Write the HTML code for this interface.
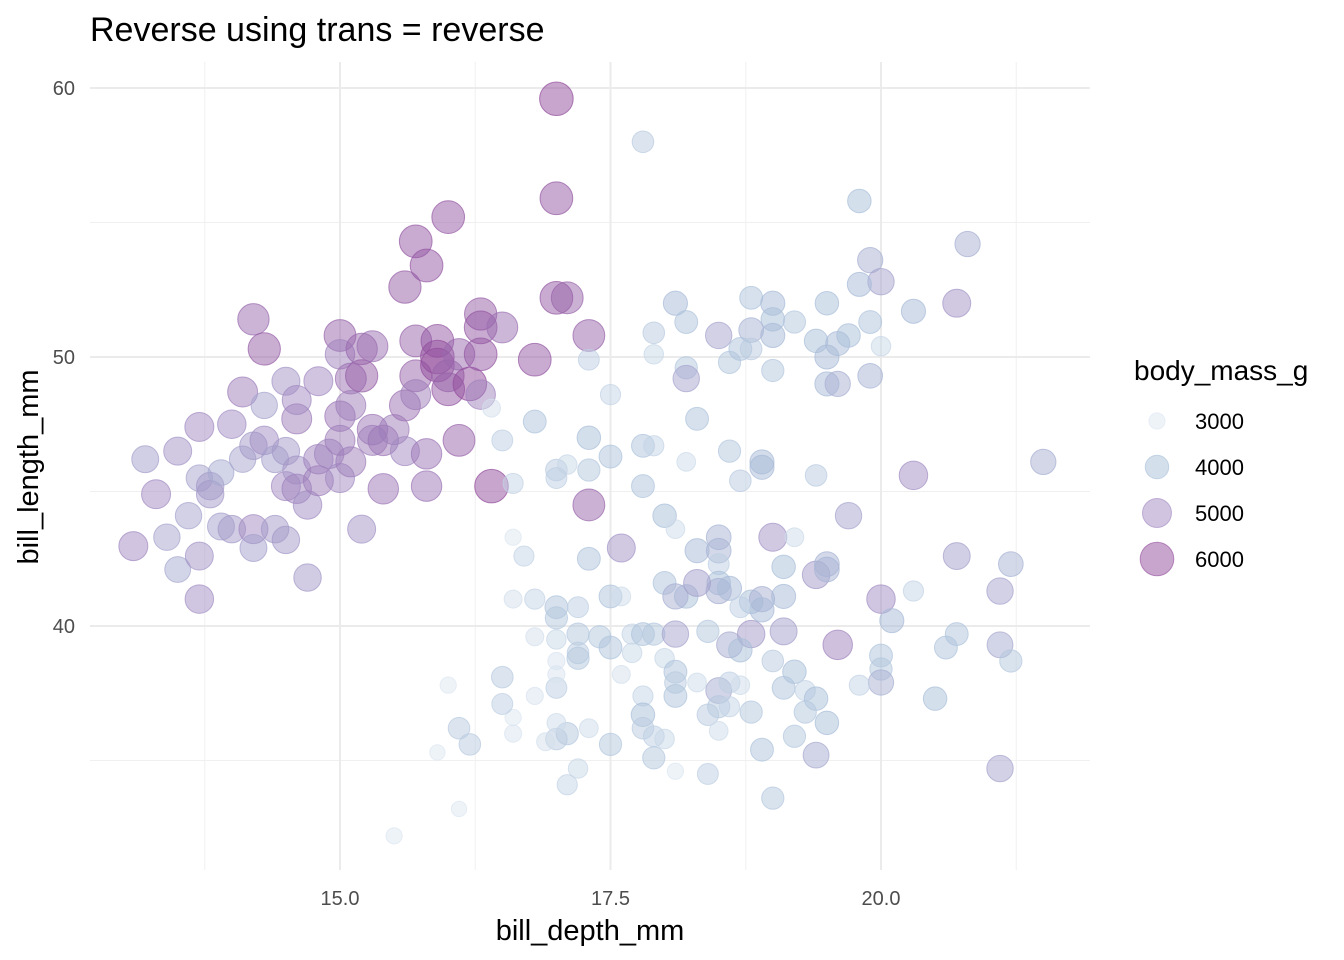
<!DOCTYPE html>
<html><head><meta charset="utf-8">
<style>
body{margin:0;background:#fff;}
svg{display:block;font-family:"Liberation Sans",Arial,sans-serif;}
</style></head>
<body>
<svg id="chart" width="1344" height="960">
<text x="90" y="41" font-size="34" fill="#000">Reverse using trans = reverse</text>
<g id="grid"></g>
<g id="pts"></g>
<g id="ticks"></g>
<text x="590" y="940" font-size="29" text-anchor="middle" fill="#000">bill_depth_mm</text>
<text transform="translate(38,467) rotate(-90)" font-size="29" text-anchor="middle" fill="#000">bill_length_mm</text>
<g id="legend">
<text x="1134" y="380" font-size="28" fill="#000">body_mass_g</text>
</g>
</svg>
<script>
const xTicks=[15.0,17.5,20.0];
const xTickLabels=["15.0","17.5","20.0"];
const xMinor=[13.75,16.25,18.75,21.25];
const yTicks=[40,50,60];
const yTickLabels=["40","50","60"];
const yMinor=[35,45,55];
const legendValues=[3000,4000,5000,6000];
const depth=[13.09,13.2,13.3,13.4,13.5,13.5,13.6,13.7,13.7,13.7,13.7,13.8,13.8,13.9,13.9,14.0,14.0,14.1,14.1,14.2,14.2,14.2,14.2,14.3,14.3,14.3,14.4,14.4,14.5,14.5,14.5,14.5,14.6,14.6,14.6,14.6,14.7,14.7,14.8,14.8,14.8,14.9,15.0,15.0,15.0,15.0,15.0,15.1,15.1,15.1,15.2,15.2,15.2,15.3,15.3,15.3,15.4,15.4,15.5,15.6,15.6,15.6,15.7,15.7,15.7,15.7,15.8,15.8,15.8,15.9,15.9,15.9,16.0,16.0,16.0,16.1,16.1,16.2,16.3,16.3,16.3,16.3,16.4,16.5,16.8,17.0,17.0,17.0,17.1,17.3,17.3,
17.8,19.8,19.9,20.0,19.8,20.8,20.7,20.3,18.1,18.2,17.9,18.8,19.0,19.0,19.0,19.2,18.8,18.5,18.6,18.7,18.8,19.0,19.5,19.4,19.5,19.6,19.7,19.9,20.0,19.9,19.5,19.6,17.9,18.2,18.2,17.3,17.5,18.3,16.4,16.5,16.6,16.8,17.3,17.0,17.1,17.0,17.3,17.5,17.8,17.9,17.8,18.2,18.6,18.9,18.9,18.7,19.4,19.7,20.3,21.5,18.0,18.1,18.3,18.5,18.5,18.5,18.5,18.5,19.0,19.2,19.1,19.4,19.5,19.5,20.3,20.7,21.2,21.1,20.0,20.1,17.6,17.3,18.0,18.2,18.1,18.3,18.6,18.8,18.9,18.9,19.1,18.7,17.5,17.6,16.8,16.6,16.7,16.6,17.0,17.0,17.2,17.2,17.4,17.7,17.8,17.9,18.1,18.4,18.8,19.1,18.6,18.7,19.0,19.2,19.6,20.0,20.0,20.0,19.8,20.6,20.7,21.1,21.2,20.5,21.1,17.0,16.8,17.0,17.2,17.5,17.7,18.0,17.2,16.5,16.0,16.8,17.0,17.0,17.6,17.8,18.1,18.1,18.1,18.3,18.5,18.6,18.7,18.8,19.1,19.3,19.4,19.3,19.5,19.2,19.4,18.9,19.0,18.4,18.5,18.6,18.4,17.8,17.8,17.9,18.0,17.9,18.1,18.5,17.5,17.3,17.1,17.0,16.9,17.0,17.2,17.1,16.6,16.6,16.5,16.2,16.1,15.9,16.1,15.5];
const length=[42.97,46.2,44.9,43.3,46.5,42.1,44.1,47.4,42.6,41.0,45.5,45.2,44.9,45.7,43.7,43.6,47.5,48.7,46.2,51.4,46.7,43.6,42.9,50.3,48.2,46.9,46.2,43.6,49.1,46.5,45.2,43.2,47.7,48.4,45.8,45.1,44.5,41.8,49.1,46.2,45.4,46.4,50.8,50.1,47.8,46.9,45.5,49.2,48.2,46.1,50.3,49.3,43.6,50.4,47.3,46.9,45.1,46.9,47.3,52.6,48.2,46.5,54.3,50.6,49.3,48.6,53.4,46.4,45.2,50.6,50.0,49.7,55.2,48.8,49.3,50.1,46.9,49.0,51.6,51.1,50.1,48.6,45.2,51.1,49.9,59.6,55.9,52.2,52.2,50.8,44.5,
58.0,55.8,53.6,52.8,52.7,54.2,52.0,51.7,52.0,51.3,50.9,52.2,52.0,51.4,50.8,51.3,51.0,50.8,49.8,50.3,50.3,49.5,52.0,50.6,50.0,50.5,50.8,51.3,50.4,49.3,49.0,49.0,50.1,49.6,49.2,49.9,48.6,47.7,48.1,46.9,45.3,47.6,47.0,45.8,46.0,45.5,45.8,46.3,46.7,46.7,45.2,46.1,46.5,46.1,45.9,45.4,45.6,44.1,45.6,46.1,44.1,43.6,42.8,43.3,42.8,42.3,41.6,41.3,43.3,43.3,42.2,41.9,42.3,42.1,41.3,42.6,42.3,41.3,41.0,40.2,42.9,42.5,41.6,41.1,41.1,41.6,41.4,40.9,41.0,40.6,41.1,40.7,41.1,41.1,41.0,41.0,42.6,43.3,40.7,40.3,40.7,39.7,39.6,39.7,39.7,39.7,39.7,39.8,39.7,39.8,39.3,39.1,38.7,38.3,39.3,38.9,38.4,37.9,37.8,39.2,39.7,39.3,38.7,37.3,34.7,39.5,39.6,38.7,39.0,39.2,39.0,38.8,38.8,38.1,37.8,37.4,37.7,38.2,38.2,37.4,38.3,37.9,37.4,37.9,37.6,37.9,37.8,36.8,37.7,37.6,37.3,36.8,36.4,35.9,35.2,35.4,33.6,34.5,37.0,37.0,36.7,36.7,36.2,35.9,35.8,35.1,34.6,36.1,35.6,36.2,36.0,35.8,35.7,36.4,34.7,34.1,36.6,36.0,37.1,35.6,36.2,35.3,33.2,32.2];
const mass=[5000,4600,5000,4500,4800,4400,4500,5000,4800,4900,4500,4700,4700,4400,4600,4700,4900,5200,4500,5500,4700,5000,4600,5700,4500,4900,4600,4700,4800,4700,5000,4700,5200,5000,4800,5100,4900,4700,5000,5100,5200,5100,5600,5100,5300,5200,5000,5400,5200,5200,5500,5700,4800,5400,5300,5200,5300,5300,5200,5700,5400,5000,5800,5600,5600,5200,5800,5300,5300,5800,6000,6000,5800,5800,5600,5500,5600,6000,5700,5800,5800,5100,6000,5400,5800,6000,5800,5800,5600,5600,5600,
3700,4000,4300,4500,4100,4300,4800,4100,4100,3900,3700,3900,4100,4000,4100,3800,4200,4500,3800,3900,3700,3800,4000,4000,4100,4100,4000,3900,3400,4200,4100,4300,3400,3800,4500,3600,3500,3900,3200,3600,3500,3900,4000,3700,3400,3600,3800,3900,3900,3500,3900,3300,3800,4100,4100,3700,3700,4500,4900,4300,4000,3300,4100,4200,4200,3600,4000,4300,4800,3300,4000,4700,4200,4200,3500,4600,4200,4500,4900,4100,4800,3900,3900,4000,4300,4600,4100,4000,4300,4100,4100,3600,3900,3300,3500,3200,3500,3000,3900,3800,3600,3800,3800,3500,3900,3800,4500,3800,4700,4600,4400,4000,3700,4000,5100,3900,3800,4300,3500,3900,3900,4400,3800,4000,4500,3400,3200,3100,3700,3900,3400,3400,3800,3700,3000,3100,3600,3100,3200,3500,3900,3700,3900,3300,4400,3600,3300,3800,3900,3500,4000,3800,4000,3800,4400,3900,3800,3600,3800,3500,3700,4000,3700,3600,3400,3800,3000,3300,3800,3300,3800,3700,3200,3300,3400,3500,3000,3100,3600,3700,3700,2900,2900,3000];

const NS="http://www.w3.org/2000/svg";
const X0=90,X1=1090,Y0=62,Y1=870;
function xs(v){return 340+(v-15)*108.2;}
function ys(v){return 357-(v-50)*26.9;}
function rs(m){return Math.sqrt(Math.max(30,-150+0.072*m));}
const stops=[[3000,[221,231,241]],[4000,[169,191,217]],[5000,[161,137,193]],[6000,[145,75,155]]];
function col(m){
  if(m<=3000)return "rgb(221,231,241)";
  if(m>=6000)return "rgb(145,75,155)";
  for(let i=0;i<3;i++){const a=stops[i],b=stops[i+1];
    if(m<=b[0]){const t=(m-a[0])/(b[0]-a[0]);
      return "rgb("+a[1].map((c,k)=>Math.round(c+(b[1][k]-c)*t)).join(",")+")";}}
}
function mk(tag,attrs,parent){const e=document.createElementNS(NS,tag);for(const k in attrs)e.setAttribute(k,attrs[k]);parent.appendChild(e);return e;}
const grid=document.getElementById('grid');
xMinor.forEach(v=>{const l=mk('line',{x1:xs(v),x2:xs(v),y1:Y0,y2:Y1,stroke:'#f0f0f0','stroke-width':1},grid);

});
yMinor.forEach(v=>{const l=mk('line',{x1:X0,x2:X1,y1:ys(v),y2:ys(v),stroke:'#f0f0f0','stroke-width':1},grid);

});
xTicks.forEach(v=>{const l=mk('line',{x1:xs(v),x2:xs(v),y1:Y0,y2:Y1,stroke:'#ebebeb','stroke-width':2},grid);

});
yTicks.forEach(v=>{const l=mk('line',{x1:X0,x2:X1,y1:ys(v),y2:ys(v),stroke:'#ebebeb','stroke-width':2},grid);

});
const tk=document.getElementById('ticks');
xTicks.forEach((v,i)=>{const t=mk('text',{x:xs(v),y:905,'font-size':20,'text-anchor':'middle',fill:'#4d4d4d'},tk);t.textContent=xTickLabels[i];

});
yTicks.forEach((v,i)=>{const t=mk('text',{x:75,y:ys(v)+7,'font-size':20,'text-anchor':'end',fill:'#4d4d4d'},tk);t.textContent=yTickLabels[i];

});
const pts=document.getElementById('pts');
for(let i=0;i<depth.length;i++){
  const c=col(mass[i]);
  const p=mk('circle',{cx:xs(depth[i]),cy:ys(length[i]),r:rs(mass[i]),fill:c,'fill-opacity':0.5,stroke:c,'stroke-opacity':0.7,'stroke-width':1},pts);
  
  
}
const lg=document.getElementById('legend');
legendValues.forEach((m,i)=>{
  const y=421+i*46,c=col(m);
  const e=mk('circle',{cx:1157,cy:y,r:rs(m),fill:c,'fill-opacity':0.5,stroke:c,'stroke-opacity':0.6},lg);
  
  
  const t=mk('text',{x:1195,y:y+8,'font-size':22,fill:'#000'},lg);t.textContent=m;
  
  
});
</script>
</body></html>
